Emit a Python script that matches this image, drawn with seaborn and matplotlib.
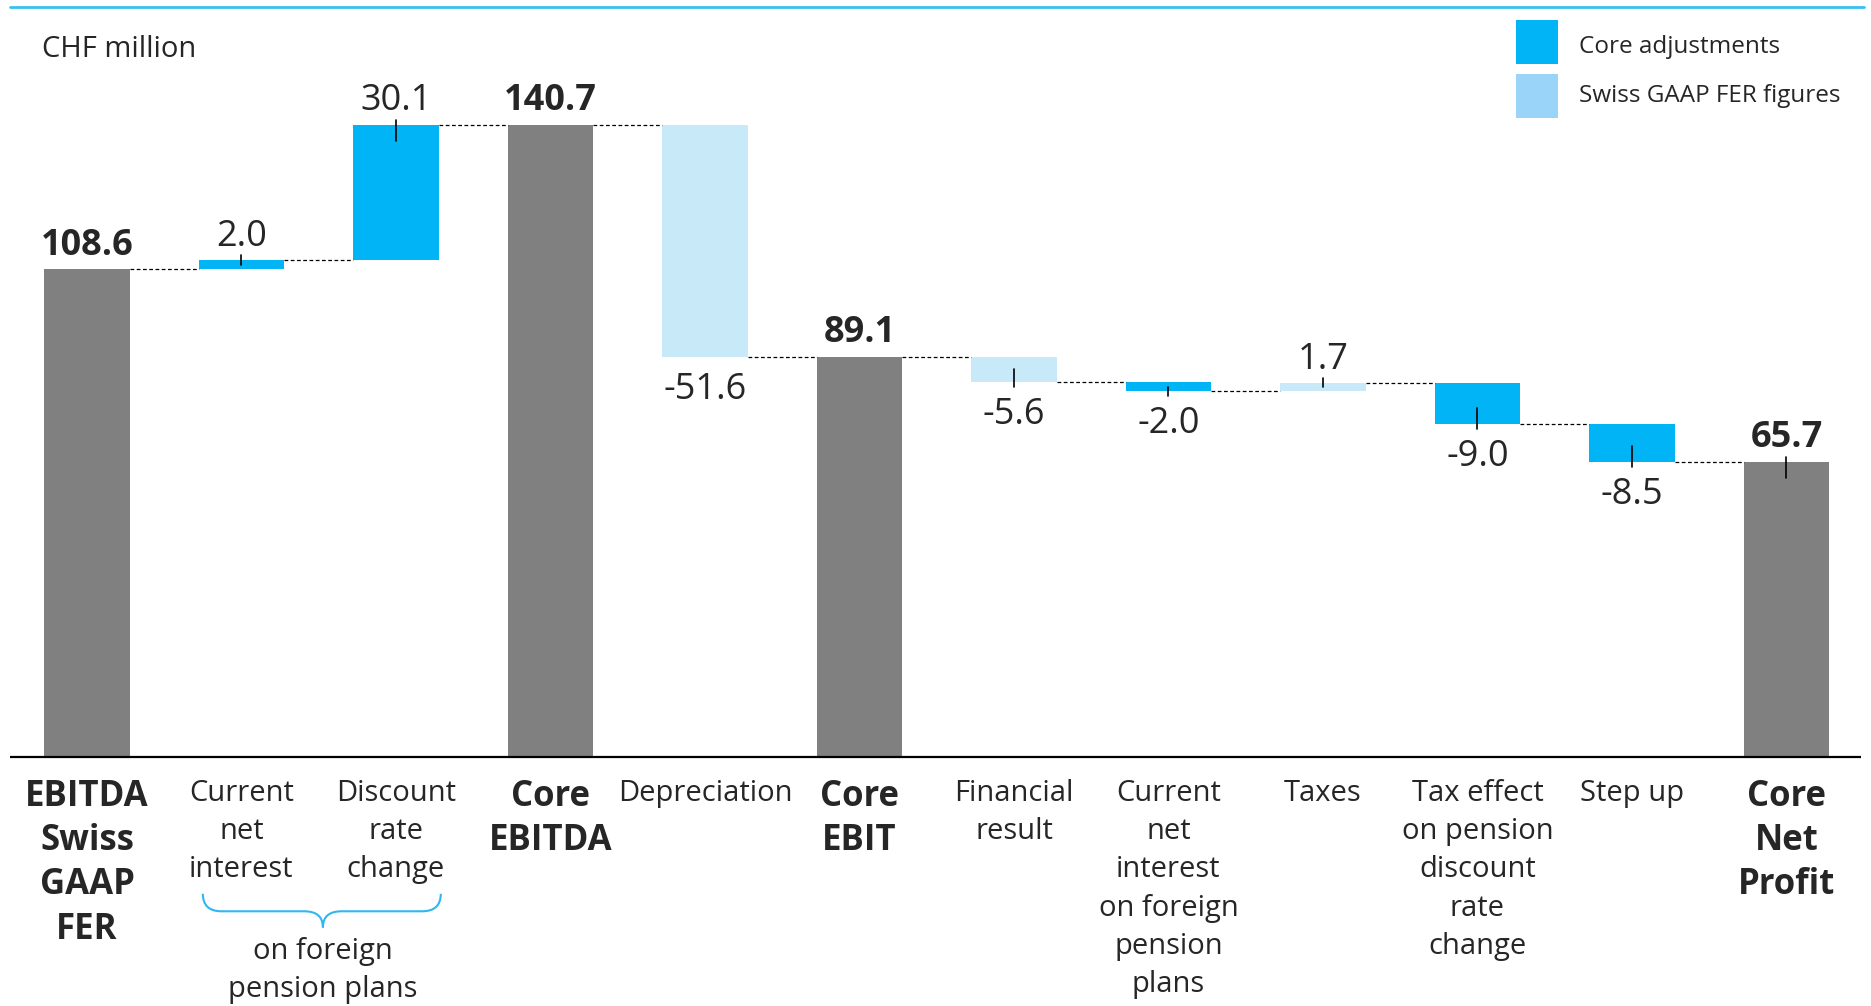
import numpy as np
import matplotlib
matplotlib.use('Agg')
import matplotlib.pyplot as plt
import seaborn as sns
from matplotlib.path import Path
from matplotlib.patches import PathPatch, Rectangle

# waterfall data (CHF million)
labels = ['EBITDA\nSwiss\nGAAP\nFER', 'Current\nnet\ninterest', 'Discount\nrate\nchange',
          'Core\nEBITDA', 'Depreciation', 'Core\nEBIT', 'Financial\nresult',
          'Current\nnet\ninterest\non foreign\npension\nplans', 'Taxes',
          'Tax effect\non pension\ndiscount\nrate\nchange', 'Step up', 'Core\nNet\nProfit']
values = [108.6, 2.0, 30.1, 140.7, -51.6, 89.1, -5.6, -2.0, 1.7, -9.0, -8.5, 65.7]
kinds = ['total', 'core', 'core', 'total', 'gaap', 'total', 'gaap', 'core', 'gaap', 'core', 'core', 'total']
value_text = ['108.6', '2.0', '30.1', '140.7', '-51.6', '89.1', '-5.6', '-2.0', '1.7', '-9.0', '-8.5', '65.7']
has_tick = [False, True, True, False, False, False, True, True, True, True, True, True]
legend_labels = ['Core adjustments', 'Swiss GAAP FER figures']

colors = {'total': '#808080', 'core': '#00B4F5', 'gaap': '#C7E9F8'}
legend_colors = ['#00B4F5', '#9AD4F8']

# running levels for the floating bars
bottoms, heights, ends = [], [], []
level = 0.0
for v, k in zip(values, kinds):
    if k == 'total':
        bottoms.append(0.0)
        heights.append(v)
        level = v
    else:
        new = level + v
        bottoms.append(min(level, new))
        heights.append(abs(v))
        level = new
    ends.append(level)

sns.set_style('white')
plt.rcParams['font.family'] = ['Open Sans', 'DejaVu Sans']

fig = plt.figure(figsize=(18.71, 10.06), dpi=100)
ax = fig.add_axes([0, 0, 1, 1])

pos = list(range(len(values)))
bw = 0.556
sns.barplot(x=pos, y=heights, bottom=bottoms, color='#808080', width=bw,
            errorbar=None, saturation=1, ax=ax)
for patch, k in zip(ax.patches, kinds):
    patch.set_facecolor(colors[k])
    patch.set_edgecolor('none')

ax.set_xlim(-0.563, 11.547)
ax.set_ylim(-55.5, 168.6)
ax.axis('off')

# baseline and top rule
ax.plot([-0.5, 11.48], [0, 0], color='black', lw=1.6, solid_capstyle='butt')
ax.plot([-0.5, 11.5], [167.0, 167.0], color='#38C0F0', lw=2)

# dashed connectors
for i in range(len(values) - 1):
    ax.plot([i + bw / 2, i + 1 - bw / 2], [ends[i], ends[i]], color='black',
            lw=0.9, dashes=(3, 2))

# value labels + small ticks
for i, (v, k) in enumerate(zip(values, kinds)):
    top = bottoms[i] + heights[i]
    bold = k == 'total'
    if v >= 0:
        ax.text(i, top + 3.3, value_text[i], ha='center', va='baseline',
                fontsize=26, fontweight='bold' if bold else 'normal')
        if has_tick[i]:
            inside = min(3.6, 0.5 * abs(v))
            ax.plot([i, i], [top + 1.1, top - inside], color='black', lw=1.2)
    else:
        bot = bottoms[i]
        ax.text(i, bot - 9.4, value_text[i], ha='center', va='baseline', fontsize=26)
        if has_tick[i]:
            inside = min(3.6, 0.5 * abs(v))
            ax.plot([i, i], [bot - 1.1, bot + inside], color='black', lw=1.2)

# category labels
for i, (lab, k) in enumerate(zip(labels, kinds)):
    if k == 'total':
        ax.text(i, -4.9, lab, ha='center', va='top', fontsize=25, fontweight='bold',
                linespacing=1.305)
    else:
        ax.text(i, -4.9, lab, ha='center', va='top', fontsize=21, linespacing=1.42)

# brace under the two pension items
x0, x1, xc = 0.75, 2.29, 1.527
y_end, y_mid, y_tip = -30.5, -34.4, -38.0
r = 0.12
verts = [(x0, y_end), (x0, y_mid), (x0 + r, y_mid), (xc - r, y_mid), (xc, y_mid), (xc, y_tip),
         (xc, y_mid), (xc + r, y_mid), (x1 - r, y_mid), (x1, y_mid), (x1, y_end)]
codes = [Path.MOVETO, Path.CURVE3, Path.CURVE3, Path.LINETO, Path.CURVE3, Path.CURVE3,
         Path.CURVE3, Path.CURVE3, Path.LINETO, Path.CURVE3, Path.CURVE3]
ax.add_patch(PathPatch(Path(verts, codes), fill=False, edgecolor='#2EB8F0', lw=1.5))
ax.text(xc, -40.1, 'on foreign\npension plans', ha='center', va='top', fontsize=21,
        linespacing=1.42)

# unit label
ax.text(-0.291, 157.6, 'CHF million', ha='left', va='center', fontsize=21)

# legend
for j, (lab, c) in enumerate(zip(legend_labels, legend_colors)):
    y_top = 164.1 - j * 12.0
    ax.add_patch(Rectangle((9.249, y_top - 9.8), 0.272, 9.8, facecolor=c, edgecolor='none'))
    ax.text(9.657, 156.9 - j * 11.1, lab, ha='left', va='baseline', fontsize=17.5)

fig.savefig('out.png', dpi=100)
